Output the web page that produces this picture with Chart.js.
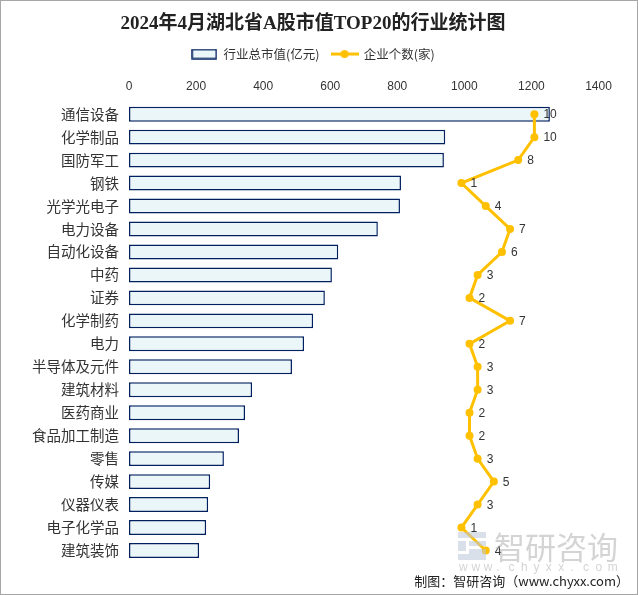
<!DOCTYPE html>
<html>
<head>
<meta charset="utf-8">
<script src="https://cdn.jsdelivr.net/npm/chart.js@4.4.1/dist/chart.umd.min.js"></script>
<style>
  html, body { margin: 0; padding: 0; background: #fff; }
  #wrap { width: 638px; height: 595px; }
</style>
</head>
<body>
<div id="wrap"><canvas id="c" width="638" height="595"></canvas></div>
<script>
// categories and values
var industries = ['通信设备', '化学制品', '国防军工', '钢铁', '光学光电子', '电力设备', '自动化设备', '中药', '证券', '化学制药',
  '电力', '半导体及元件', '建筑材料', '医药商业', '食品加工制造', '零售', '传媒', '仪器仪表', '电子化学品', '建筑装饰'];
var marketValue = [1255, 943, 939, 811, 808, 742, 624, 605, 584, 549,
  522, 486, 367, 346, 328, 283, 242, 236, 230, 209];
var companyCount = [10, 10, 8, 1, 4, 7, 6, 3, 2, 7,
  2, 3, 3, 2, 2, 3, 5, 3, 1, 4];
var valueTicks = [0, 200, 400, 600, 800, 1000, 1200, 1400];

var CJK = '"Noto Sans CJK SC", "Noto Sans", sans-serif';

// legend icons
function barIcon() {
  var cv = document.createElement('canvas');
  cv.width = 26; cv.height = 11;
  var g = cv.getContext('2d');
  g.fillStyle = '#EAF6F7';
  g.fillRect(1, 1, 24, 9);
  g.strokeStyle = '#002060';
  g.lineWidth = 1.5;
  g.strokeRect(1, 1, 24, 9);
  return cv;
}
function lineIcon() {
  var cv = document.createElement('canvas');
  cv.width = 28; cv.height = 10;
  var g = cv.getContext('2d');
  g.strokeStyle = '#FFC000';
  g.lineWidth = 3;
  g.beginPath(); g.moveTo(0, 5); g.lineTo(28, 5); g.stroke();
  g.fillStyle = '#FFC000';
  g.beginPath(); g.arc(14, 5, 4, 0, Math.PI * 2); g.fill();
  return cv;
}
var icons = [barIcon(), lineIcon()];

var pointLabels = {
  id: 'pointLabels',
  afterDatasetsDraw: function (chart) {
    var ctx = chart.ctx;
    var meta = chart.getDatasetMeta(1);
    ctx.save();
    ctx.font = '12px "Liberation Sans", sans-serif';
    ctx.fillStyle = '#333';
    ctx.textAlign = 'left';
    ctx.textBaseline = 'middle';
    meta.data.forEach(function (pt, i) {
      ctx.fillText(companyCount[i], pt.x + 9, pt.y + 1);
    });
    ctx.restore();
  }
};

var decorations = {
  id: 'decorations',
  afterDraw: function (chart) {
    var ctx = chart.ctx;
    ctx.save();
    // watermark
    ctx.globalAlpha = 0.55;
    ctx.fillStyle = '#b9c6d8';
    ctx.fillRect(458, 532, 28, 6);
    ctx.fillRect(458, 541, 8, 10);
    ctx.fillRect(469, 541, 17, 5);
    ctx.fillRect(469, 549, 17, 5);
    ctx.fillRect(458, 554, 28, 6);
    ctx.fillStyle = '#b0b0b0';
    ctx.font = '31px ' + CJK;
    ctx.textBaseline = 'middle';
    ctx.fillText('智研咨询', 494, 547);
    ctx.font = '12px "Liberation Sans", sans-serif';
    var w = 'www.chyxx.com';
    for (var i = 0; i < w.length; i++) {
      ctx.fillText(w[i], 459 + i * 12.4, 568);
    }
    ctx.globalAlpha = 1;
    // source line
    ctx.fillStyle = '#222';
    ctx.font = '13px ' + CJK;
    ctx.textAlign = 'right';
    ctx.fillText('制图：智研咨询（www.chyxx.com）', 629, 581);
    // frame
    ctx.strokeStyle = '#a6a6a6';
    ctx.lineWidth = 1;
    ctx.strokeRect(0.5, 0.5, 637, 594);
    ctx.restore();
  }
};

var ctx = document.getElementById('c').getContext('2d');
new Chart(ctx, {
  type: 'bar',
  data: {
    labels: industries,
    datasets: [
      {
        label: '行业总市值(亿元)',
        data: marketValue,
        backgroundColor: '#EAF6F7',
        borderColor: '#002060',
        borderWidth: 1.5,
        borderSkipped: false,
        barPercentage: 0.65,
        categoryPercentage: 1,
        xAxisID: 'x',
        order: 2
      },
      {
        type: 'line',
        label: '企业个数(家)',
        data: companyCount,
        borderColor: '#FFC000',
        backgroundColor: '#FFC000',
        borderWidth: 3,
        pointRadius: 4,
        pointBackgroundColor: '#FFC000',
        pointBorderWidth: 0,
        tension: 0,
        xAxisID: 'x2',
        order: 1
      }
    ]
  },
  options: {
    indexAxis: 'y',
    responsive: false,
    animation: false,
    layout: { padding: { left: 0, right: 12, top: 0, bottom: 33 } },
    scales: {
      x: {
        position: 'top',
        min: 0,
        max: 1482,
        afterBuildTicks: function (s) {
          s.ticks = valueTicks.map(function (v) { return { value: v }; });
        },
        grid: { display: false, drawTicks: false },
        border: { display: false },
        ticks: {
          color: '#333',
          padding: 9,
          maxRotation: 0,
          autoSkip: false,
          callback: function (v) { return String(v); },
          font: { family: '"Liberation Sans", sans-serif', size: 12 }
        }
      },
      x2: {
        display: false,
        min: -40,
        max: 21.3
      },
      y: {
        grid: { display: false, drawTicks: false },
        border: { display: false },
        afterFit: function (s) { s.width = 129; },
        ticks: {
          color: '#333',
          padding: 10,
          font: { family: CJK, size: 14.5 }
        }
      }
    },
    plugins: {
      title: {
        display: true,
        text: '2024年4月湖北省A股市值TOP20的行业统计图',
        color: '#222',
        font: { family: '"Liberation Serif", ' + CJK, size: 19, weight: 'bold' },
        padding: { top: 13, bottom: 0 }
      },
      legend: {
        display: true,
        labels: {
          usePointStyle: true,
          pointStyleWidth: 26,
          color: '#333',
          padding: 12,
          font: { family: CJK, size: 12.5 },
          generateLabels: function (chart) {
            return chart.data.datasets.map(function (ds, i) {
              return {
                text: ds.label,
                pointStyle: icons[i],
                fontColor: '#333',
                datasetIndex: i,
                hidden: false,
                lineWidth: 0
              };
            });
          }
        }
      },
      tooltip: { enabled: false }
    }
  },
  plugins: [pointLabels, decorations]
});
</script>
</body>
</html>
